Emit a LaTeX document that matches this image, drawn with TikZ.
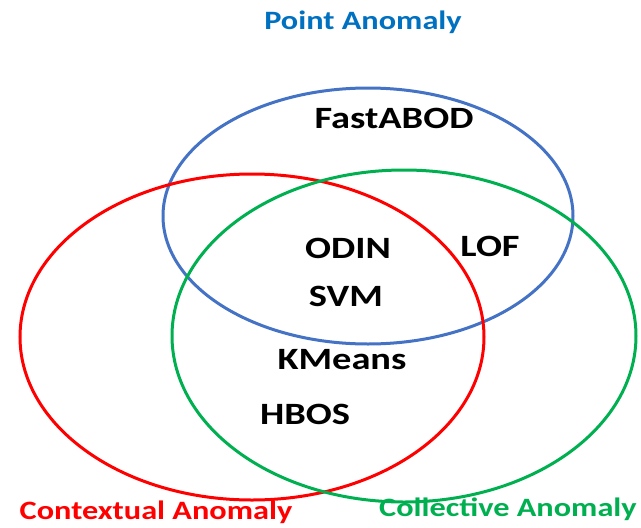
\documentclass[tikz,border=0pt]{standalone}
\usepackage{fontspec}
\setmainfont{Carlito}
\begin{document}
\begin{tikzpicture}[x=1pt,y=-1pt,
  ring/.style={line width=3pt},
  lbl/.style={font=\bfseries\fontsize{26.5}{30}\selectfont, inner sep=0pt, anchor=center, xscale=1.22},
  item/.style={font=\bfseries\fontsize{31}{36}\selectfont, inner sep=0pt, anchor=center, text=black, xscale=1.24}]
\useasboundingbox (0,0) rectangle (641,528);
\definecolor{pblue}{RGB}{68,114,196}
\definecolor{cred}{RGB}{255,0,0}
\definecolor{cgreen}{RGB}{0,176,80}
\definecolor{tblue}{RGB}{0,112,192}
\definecolor{tgreen}{RGB}{0,176,80}
\draw[ring,draw=pblue] (368,216) ellipse [x radius=205, y radius=128];
\draw[ring,draw=cred] (252,337) ellipse [x radius=232, y radius=163];
\draw[ring,draw=cgreen] (404,336) ellipse [x radius=232, y radius=166];
\node[lbl,text=tblue] (pa) at (363,22) {Point Anomaly};
\node[lbl,text=cred] (ca) at (156,512) {Contextual Anomaly};
\node[lbl,text=tgreen] (co) at (508,509) {Collective Anomaly};
\node[item] (fa) at (394,118) {FastABOD};
\node[item] (od) at (348,248) {ODIN};
\node[item] (lo) at (490,246) {LOF};
\node[item] (sv) at (346,296) {SVM};
\node[item] (km) at (342,360) {KMeans};
\node[item] (hb) at (305,414) {HBOS};
\end{tikzpicture}
\end{document}
